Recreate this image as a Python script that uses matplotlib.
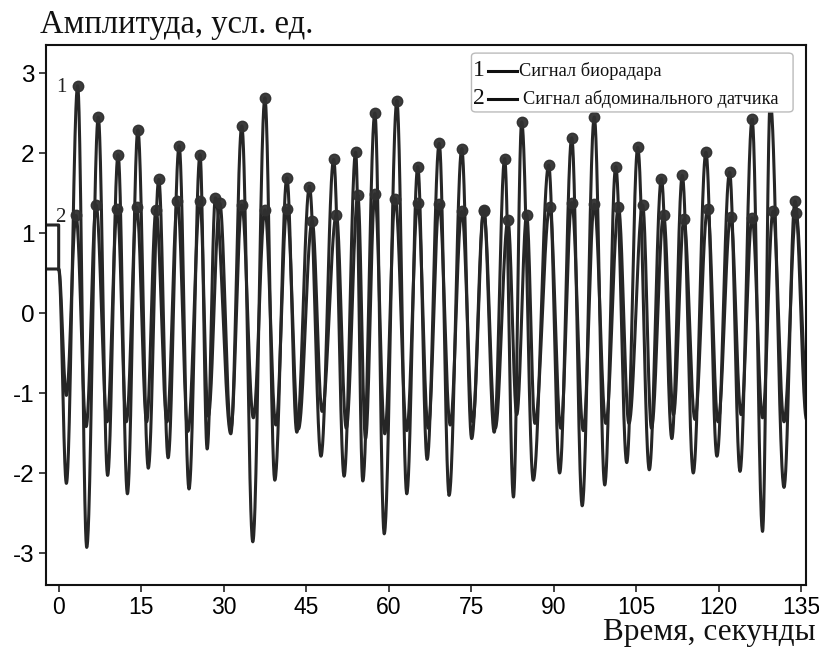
import numpy as np
import matplotlib
matplotlib.use("Agg")
import matplotlib.pyplot as plt
from matplotlib.patches import FancyBboxPatch

# ---------------- data ----------------
bio_start = 0.55
abd_start = 1.10
abd_step = 0.55
bio_end_t, bio_end_v = 136.0, -1.33
abd_end_t, abd_end_v = 136.0, -0.92

bio_peak_t = [3.45, 7.2, 10.8, 14.4, 18.2, 21.9, 25.7, 28.5, 33.3, 37.5, 41.5, 45.6,
              50.0, 54.0, 57.5, 61.5, 65.3, 69.2, 73.3, 77.3, 81.1, 84.2, 89.1, 93.3,
              97.4, 101.3, 105.3, 109.6, 113.4, 117.7, 122.0, 126.1, 129.4, 133.9]
bio_peak_v = [2.84, 2.45, 1.98, 2.29, 1.67, 2.09, 1.98, 1.44, 2.34, 2.69, 1.69, 1.58,
              1.92, 2.01, 2.50, 2.65, 1.83, 2.12, 2.05, 1.29, 1.93, 2.39, 1.85, 2.19,
              2.45, 1.83, 2.07, 1.68, 1.72, 2.01, 1.76, 2.42, 2.65, 1.40]
bio_trough_t = [1.4, 5.1, 8.9, 12.5, 16.3, 19.9, 23.7, 27.0, 31.3, 35.3, 39.3, 43.3,
                47.7, 51.9, 55.3, 59.2, 63.3, 67.0, 71.0, 75.1, 79.2, 82.7, 86.3, 91.1,
                95.2, 99.3, 103.3, 107.4, 111.5, 115.4, 119.7, 123.9, 128.0, 131.9]
bio_trough_v = [-2.13, -2.93, -2.03, -2.26, -1.94, -1.81, -2.20, -1.70, -1.51, -2.86,
                -2.09, -1.49, -1.79, -2.04, -2.10, -2.76, -2.26, -1.83, -2.28, -1.57,
                -1.49, -2.30, -2.09, -2.00, -2.41, -2.15, -1.87, -1.96, -1.57, -2.00,
                -1.79, -1.98, -2.73, -2.18]

abd_peak_t = [3.15, 6.8, 10.65, 14.2, 17.7, 21.6, 25.7, 29.3, 33.3, 37.5, 41.5, 46.1,
              50.5, 54.4, 57.5, 61.2, 65.3, 69.2, 73.3, 77.3, 81.7, 85.1, 89.3, 93.3,
              97.4, 101.8, 106.2, 110.0, 113.7, 118.0, 122.2, 126.1, 129.9, 134.1]
abd_peak_v = [1.22, 1.35, 1.30, 1.32, 1.29, 1.40, 1.40, 1.37, 1.35, 1.29, 1.30, 1.15,
              1.23, 1.47, 1.49, 1.43, 1.38, 1.36, 1.27, 1.27, 1.16, 1.23, 1.32, 1.38,
              1.36, 1.32, 1.35, 1.23, 1.17, 1.30, 1.20, 1.19, 1.27, 1.25]
abd_trough_t = [1.4, 5.0, 8.8, 12.3, 16.0, 19.7, 23.5, 27.2, 31.3, 35.4, 39.5, 43.6,
                47.9, 52.3, 55.8, 59.3, 63.3, 67.2, 71.2, 75.3, 79.4, 83.3, 86.6, 91.3,
                95.4, 99.5, 103.7, 107.8, 111.8, 115.7, 119.9, 124.1, 128.0, 131.9]
abd_trough_v = [-1.03, -1.42, -1.36, -1.36, -1.36, -1.36, -1.48, -1.29, -1.45, -1.31,
                -1.40, -1.45, -1.23, -1.44, -1.57, -1.51, -1.47, -1.44, -1.40, -1.36,
                -1.44, -1.27, -1.38, -1.44, -1.47, -1.38, -1.38, -1.44, -1.27, -1.33,
                -1.36, -1.27, -1.31, -1.36]

x_ticks = [0, 15, 30, 45, 60, 75, 90, 105, 120, 135]
y_ticks = [-3, -2, -1, 0, 1, 2, 3]
title_text = "Амплитуда, усл. ед."
xlabel_text = "Время, секунды"
legend_labels = ["Сигнал биорадара", "Сигнал абдоминального датчика"]

XMIN, XMAX = -2.36, 135.9
YMIN, YMAX = -3.4, 3.35


def build_curve(knots, n=40):
    """Connect successive extrema with half-cosine segments."""
    ts, vs = [], []
    for (t0, v0), (t1, v1) in zip(knots[:-1], knots[1:]):
        u = np.linspace(0, 1, n)
        ts.append(t0 + (t1 - t0) * u)
        vs.append(v0 + (v1 - v0) * (1 - np.cos(np.pi * u)) / 2)
    return np.concatenate(ts), np.concatenate(vs)


def knots_for(start_knots, tr_t, tr_v, pk_t, pk_v, end):
    k = list(start_knots)
    for a, b, c, d in zip(tr_t, tr_v, pk_t, pk_v):
        k.append((a, b))
        k.append((c, d))
    k.append(end)
    return k


bio_knots = knots_for([(XMIN, bio_start), (0.0, bio_start)],
                      bio_trough_t, bio_trough_v, bio_peak_t, bio_peak_v,
                      (bio_end_t, bio_end_v))
abd_knots = knots_for([(XMIN, abd_start), (0.0, abd_start), (0.0, abd_step)],
                      abd_trough_t, abd_trough_v, abd_peak_t, abd_peak_v,
                      (abd_end_t, abd_end_v))

bt, bv = build_curve(bio_knots)
at, av = build_curve(abd_knots)

# ---------------- figure ----------------
fig = plt.figure(figsize=(8.19, 6.49), dpi=100)
W, H = 819, 649
L, R, T, B = 45.7, 806, 45, 585
ax = fig.add_axes([L / W, 1 - B / H, (R - L) / W, (B - T) / H])

line_col = "#262626"
mark_col = "#303030"
ax.plot(at, av, color=line_col, lw=2.2, zorder=2, solid_joinstyle="round")
ax.plot(bt, bv, color=line_col, lw=2.2, zorder=2, solid_joinstyle="round")
ax.plot(abd_peak_t, abd_peak_v, "o", color=mark_col, ms=7.5, alpha=0.95, zorder=3)
ax.plot(bio_peak_t, bio_peak_v, "o", color=mark_col, ms=7.5, alpha=0.95, zorder=3)

ax.set_xlim(XMIN, XMAX)
ax.set_ylim(YMIN, YMAX)
ax.set_xticks(x_ticks)
ax.set_yticks(y_ticks)
sans = ["Liberation Sans", "DejaVu Sans"]
serif = ["Liberation Serif", "DejaVu Serif"]
ax.set_xticklabels([str(v) for v in x_ticks], family=sans, fontsize=16.5)
ax.set_yticklabels([str(v) for v in y_ticks], family=sans, fontsize=17.5)
ax.tick_params(direction="out", length=5, width=1.2, color="#222222", pad=3)
for s in ax.spines.values():
    s.set_linewidth(1.5)
    s.set_color("#111111")

# series numerals near the first peaks
ax.text(0.5, 2.82, "1", family=serif, fontsize=15, ha="center", va="center", color="#222222")
ax.text(0.3, 1.20, "2", family=serif, fontsize=15, ha="center", va="center", color="#222222")

# legend (manual)
box = FancyBboxPatch((0.560, 0.876), 0.983 - 0.560, 0.985 - 0.876,
                     boxstyle="round,pad=0,rounding_size=0.006",
                     transform=ax.transAxes, facecolor="white",
                     edgecolor="#bbbbbb", lw=1.0, zorder=10)
ax.add_patch(box)
rows_y = [0.952, 0.9]
num_x = 0.5695
line_x = (0.582, 0.620)
text_x = [0.623, 0.628]
for i, (yy, lab) in enumerate(zip(rows_y, legend_labels)):
    ax.text(num_x, yy, str(i + 1), transform=ax.transAxes, family=serif,
            fontsize=17, ha="center", va="center", zorder=11, color="#111111")
    ax.plot(line_x, [yy, yy], transform=ax.transAxes, color="#111111", lw=2.2,
            zorder=11, clip_on=False)
    ax.text(text_x[i], yy, lab, transform=ax.transAxes, family=serif,
            fontsize=13.2, ha="left", va="center", zorder=11, color="#111111")

fig.text(40 / W, 1 - 33 / H, title_text, family=serif, fontsize=23.5,
         ha="left", va="baseline", color="#111111")
fig.text(816 / W, 1 - 640 / H, xlabel_text, family=serif, fontsize=22.5,
         ha="right", va="baseline", color="#111111")

fig.savefig("out.png", dpi=100, facecolor="white")
